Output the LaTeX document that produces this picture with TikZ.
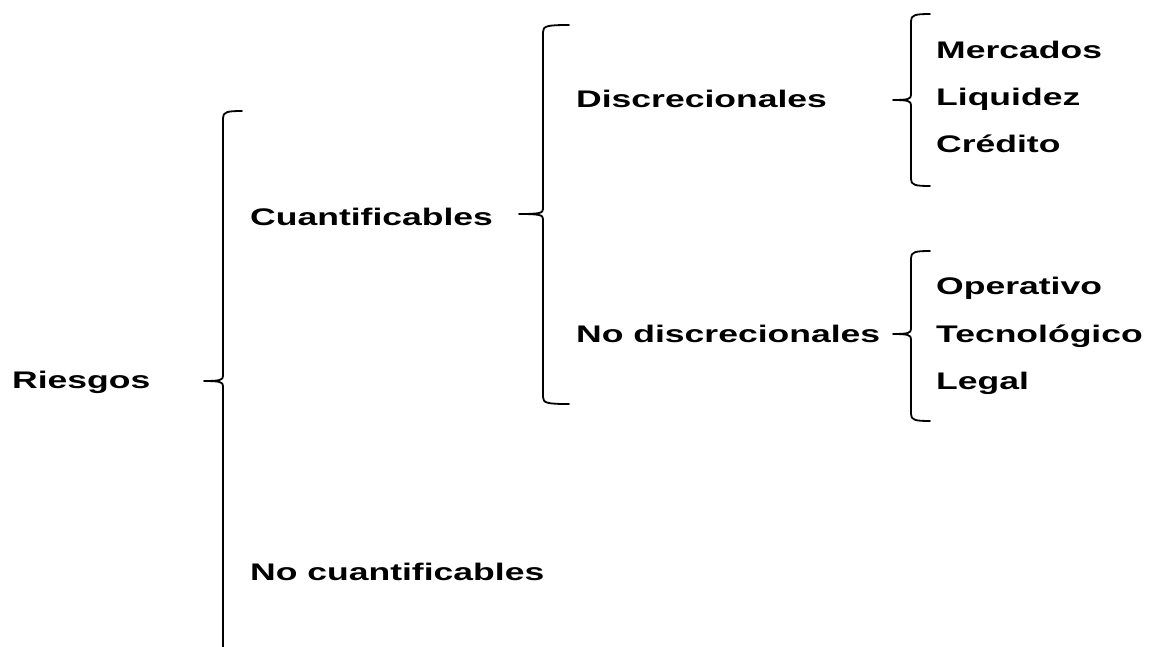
\documentclass[tikz,border=0pt]{standalone}
\usepackage{fontspec}
\setmainfont{Liberation Sans}[FakeStretch=1.48]
\newcommand\mybrace[6]{% x, top, mid, bottom, tip length, hook length
  \draw[bracestyle] ({#1+#6},#2) .. controls ({#1+4},#2) and (#1,{#2+1}) .. (#1,{#2+7})
    -- (#1,{#3-5}) .. controls (#1,{#3-1}) and ({#1-3},#3) .. ({#1-#5},#3)
    .. controls ({#1-3},#3) and (#1,{#3+1}) .. (#1,{#3+5})
    -- (#1,{#4-7}) .. controls (#1,{#4-1}) and ({#1+4},#4) .. ({#1+#6},#4);}
\begin{document}
\begin{tikzpicture}[x=1pt,y=-1pt,
  lbl/.style={font=\bfseries\fontsize{24}{24}\selectfont, inner sep=0pt, anchor=base west},
  bracestyle/.style={line width=1.8pt, line cap=round, line join=round, black}]
\useasboundingbox (0,0) rectangle (1149,646);
\clip (0,0) rectangle (1149,646);
\node[lbl] (riesgos) at (12,388) {Riesgos};
\node[lbl] (cuant) at (250,225) {Cuantificables};
\node[lbl] (nocuant) at (250,580) {No cuantificables};
\node[lbl] (disc) at (576,107) {Discrecionales};
\node[lbl] (nodisc) at (576,342) {No discrecionales};
\node[lbl] (merc) at (936,58) {Mercados};
\node[lbl] (liq) at (936,105) {Liquidez};
\node[lbl] (cred) at (936,152) {Crédito};
\node[lbl] (oper) at (936,294) {Operativo};
\node[lbl] (tec) at (936,342) {Tecnológico};
\node[lbl] (legal) at (936,389) {Legal};
\mybrace{223}{111}{381}{700}{19}{19}
\mybrace{543}{25}{214}{404}{24}{26}
\mybrace{911}{14}{100}{186}{18}{19}
\mybrace{911}{251}{334}{421}{18}{19}
\end{tikzpicture}
\end{document}
